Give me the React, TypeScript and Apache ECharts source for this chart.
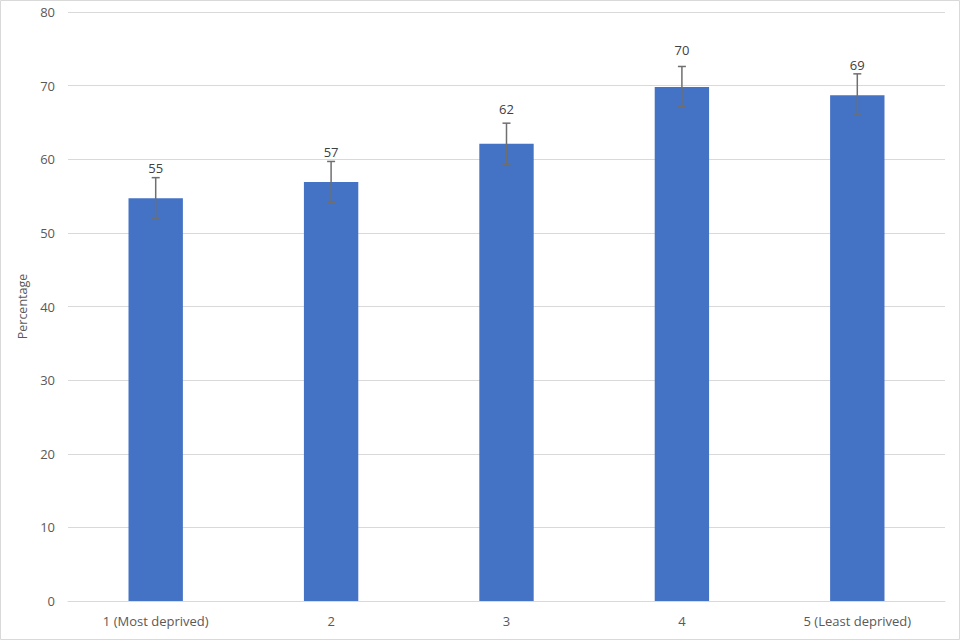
import React, { useEffect, useRef } from "react";
import * as echarts from "echarts";

const categories = ["1 (Most deprived)", "2", "3", "4", "5 (Least deprived)"];
const values = [54.7, 56.9, 62.1, 69.8, 68.7];
const lowerCI = [52.0, 54.1, 59.3, 67.2, 66.0];
const upperCI = [57.5, 59.7, 64.9, 72.6, 71.6];
const yAxisTitle = "Percentage";

// label gap above each bar (style, not data)
const labelGaps = [24, 24, 28, 31, 24];

export default function App() {
  const ref = useRef<HTMLDivElement>(null);
  useEffect(() => {
    const chart = echarts.init(ref.current!, null, { renderer: "svg" });
    const font = "'Open Sans', 'Noto Sans', sans-serif";
    chart.setOption({
      animation: false,
      backgroundColor: "#ffffff",
      textStyle: { fontFamily: font },
      graphic: [
        {
          type: "rect",
          shape: { x: 0.5, y: 0.5, width: 959, height: 639 },
          style: { fill: "none", stroke: "#d9d9d9", lineWidth: 1 },
          silent: true,
        },
      ],
      grid: { left: 68, right: 15, top: 12, bottom: 39, containLabel: false },
      xAxis: {
        type: "category",
        data: categories,
        axisLine: { lineStyle: { color: "#d9d9d9" } },
        axisTick: { show: false },
        axisLabel: { color: "#595959", fontSize: 13, margin: 13, fontFamily: font },
      },
      yAxis: {
        type: "value",
        min: 0,
        max: 80,
        interval: 10,
        name: yAxisTitle,
        nameLocation: "middle",
        nameGap: 31,
        nameTextStyle: { color: "#595959", fontSize: 12.5, fontFamily: font },
        axisLine: { show: false },
        axisTick: { show: false },
        axisLabel: { color: "#595959", fontSize: 13, margin: 13, fontFamily: font },
        splitLine: { lineStyle: { color: "#d9d9d9" } },
      },
      series: [
        {
          type: "bar",
          data: values.map((v, i) => ({
            value: v,
            label: { distance: labelGaps[i] },
          })),
          barWidth: "31%",
          itemStyle: { color: "#4472c4" },
          label: {
            show: true,
            position: "top",
            color: "#404040",
            fontSize: 13,
            fontFamily: font,
            formatter: (p: any) => String(Math.round(p.value)),
          },
        },
        {
          type: "custom",
          data: categories.map((_, i) => [i, lowerCI[i], upperCI[i]]),
          z: 10,
          renderItem: (params: any, api: any) => {
            const lo = api.coord([api.value(0), api.value(1)]);
            const hi = api.coord([api.value(0), api.value(2)]);
            const cap = 4;
            const style = { stroke: "#6f6f6f", lineWidth: 1.5 };
            return {
              type: "group",
              children: [
                { type: "line", shape: { x1: hi[0], y1: hi[1], x2: lo[0], y2: lo[1] }, style },
                { type: "line", shape: { x1: hi[0] - cap, y1: hi[1], x2: hi[0] + cap, y2: hi[1] }, style },
                { type: "line", shape: { x1: lo[0] - cap, y1: lo[1], x2: lo[0] + cap, y2: lo[1] }, style },
              ],
            };
          },
        },
      ],
    });
    return () => chart.dispose();
  }, []);
  return (
    <div
      ref={ref}
      style={{ position: "fixed", left: 0, top: 0, width: 960, height: 640 }}
    />
  );
}
